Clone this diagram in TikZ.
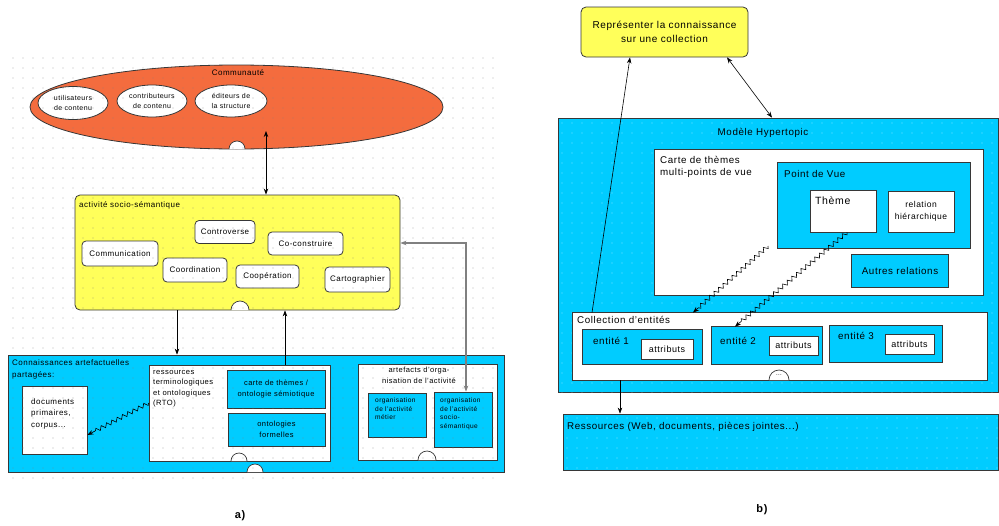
\documentclass[tikz,border=0pt]{standalone}
\usepackage{fontspec}
\setmainfont{Liberation Sans}[LetterSpace=6]
\usetikzlibrary{shapes.geometric,arrows.meta,decorations.pathmorphing}
\definecolor{cyanbox}{RGB}{0,204,255}
\definecolor{yelbox}{RGB}{255,255,90}
\definecolor{orangebox}{RGB}{244,108,62}
\definecolor{edge}{RGB}{55,55,55}
\begin{document}
\begin{tikzpicture}[x=1pt,y=-1pt,
  sz/.style 2 args={minimum width=#1pt, minimum height=#2pt},
  box/.style={draw=edge, line width=0.8pt, inner sep=0pt, rectangle},
  cbox/.style={box, fill=cyanbox},
  wbox/.style={box, fill=white},
  ybox/.style={box, fill=yelbox, rounded corners=5pt},
  pill/.style={box, fill=white, rounded corners=4pt, font=\fontsize{8}{9}\selectfont},
  oval/.style={ellipse, draw=edge, line width=0.8pt, inner sep=0pt, fill=white, align=center, font=\fontsize{7}{10}\selectfont},
  txt/.style={inner sep=0pt, align=left, font=\fontsize{8}{11}\selectfont},
  rtxt/.style={inner sep=0pt, align=left, font=\fontsize{9.8}{12}\selectfont},
  stxt/.style={inner sep=0pt, align=left, font=\fontsize{6.6}{8.4}\selectfont},
  arr/.style={-{Stealth[length=6pt,width=4.5pt]}, line width=0.6pt, draw=black},
  dbl/.style={{Stealth[length=6pt,width=4.5pt]}-{Stealth[length=6pt,width=4.5pt]}, line width=0.6pt},
  zz/.style={decorate, decoration={zigzag, amplitude=2pt, segment length=6pt, post length=7pt}, -{Stealth[length=6pt,width=4.5pt]}, line width=0.6pt},
  bump/.style={draw=edge, fill=white, line width=0.7pt},
  captionlbl/.style={inner sep=0pt, font=\bfseries\fontsize{11}{12}\selectfont}
]
\useasboundingbox (0,0) rectangle (999,525);

% ================= (a) =================
\node[ellipse, draw=edge, line width=0.8pt, fill=orangebox, sz={413}{84}] (comm) at (236.5,107) {};
\node[txt, anchor=center] (tcomm) at (238,73) {Communauté};
\node[oval, sz={70}{33}] (u1) at (73,103) {utilisateurs\\de contenu};
\node[oval, sz={70}{32}] (u2) at (152,101) {contributeurs\\de contenu};
\node[oval, sz={72}{32}] (u3) at (231,101) {éditeurs de\\la structure};
\draw[bump] (229,149) arc[start angle=180, end angle=360, radius=8];

\node[ybox, sz={325}{115}] (act) at (237.5,252.5) {};
\node[txt, anchor=west] (tact) at (79,205) {activité socio-sémantique};
\node[pill, sz={60}{23}] (n1) at (225,232) {Controverse};
\node[pill, sz={75}{23}] (n2) at (305.5,243.5) {Co-construire};
\node[pill, sz={76}{25}] (n3) at (120,253.5) {Communication};
\node[pill, sz={64}{24}] (n4) at (195,270) {Coordination};
\node[pill, sz={63}{23}] (n5) at (267.5,276.5) {Coopération};
\node[pill, sz={65}{25}] (n6) at (357.5,279.5) {Cartographier};
\draw[bump] (231,310) arc[start angle=180, end angle=360, radius=9];

\node[cbox, sz={496}{117}] (blue) at (256,413.5) {};
\node[txt, anchor=north west, font=\fontsize{8}{12}\selectfont] (tblue) at (12,359) {Connaissances artefactuelles\\partagées:};
\node[wbox, sz={65}{68}] (docs) at (54.5,420) {};
\node[txt, anchor=north west, font=\fontsize{8}{11.5}\selectfont] (tdocs) at (31,398) {documents\\primaires,\\corpus...};

\node[wbox, sz={181}{96}] (rto) at (239.5,413) {};
\node[txt, anchor=north west, font=\fontsize{7.6}{10.4}\selectfont] (trto) at (153,370) {ressources\\terminologiques\\et ontologiques\\(RTO)};
\node[cbox, sz={98}{38}, align=center, font=\fontsize{7.5}{10.5}\selectfont] (carte) at (276,389) {carte de thèmes /\\ontologie sémiotique};
\node[cbox, sz={97}{33}, align=center, font=\fontsize{7.5}{10.5}\selectfont] (onto) at (276.5,429.5) {ontologies\\formelles};
\draw[bump] (231,461) arc[start angle=180, end angle=360, radius=8];
\draw[bump] (247,472) arc[start angle=180, end angle=360, radius=8];

\node[wbox, sz={139}{96}] (arte) at (427.5,412) {};
\node[txt, anchor=north, align=center, font=\fontsize{7.5}{10.5}\selectfont] (tarte) at (419,367) {artefacts d'orga-\\nisation de l'activité};
\node[cbox, sz={58}{44}] (metier) at (397,415) {};
\node[stxt, anchor=north west] (tmetier) at (375,398) {organisation\\de l'activité\\métier};
\node[cbox, sz={58}{55}] (socio) at (463,419.5) {};
\node[stxt, anchor=north west] (tsocio) at (440,398) {organisation\\de l'activité\\socio-\\sémantique};
\draw[bump] (418,460) arc[start angle=180, end angle=360, radius=9];

% connectors (a)
\coordinate (k4) at (266,131);
\draw[dbl, line width=1pt] (k4) -- (act.north -| k4);
\coordinate (k2) at (177,0);
\draw[arr] (act.south -| k2) -- (blue.north -| k2);
\coordinate (k3) at (285,0);
\draw[arr] (rto.north -| k3) -- (act.south -| k3);
\coordinate (k1) at (466,243);
\draw[dbl, draw=gray, line width=1.2pt] (act.east |- k1) -- (k1) -- (k1 |- socio.north);
\coordinate (k13) at (0,403);
\coordinate (k14) at (0,435);
\draw[zz] (rto.west |- k13) -- (docs.east |- k14);

% dot grid (a)
\foreach \i in {0,...,48}{\foreach \j in {0,...,42}{\fill[gray, opacity=0.6] (13+10*\i,58+10*\j) circle[radius=0.7pt];}}

\node[captionlbl] (la) at (240,516) {a)};

% ================= (b) =================
\node[ybox, sz={167}{50}, align=center, font=\fontsize{10}{14}\selectfont] (rep) at (664.5,32) {Représenter la connaissance\\sur une collection};

\node[cbox, sz={440}{274}] (hyp) at (778,255) {};
\node[wbox, sz={328}{145}] (carte2) at (819,222.5) {};
\node[cbox, sz={192}{85}] (pdv) at (874,205.5) {};
\node[wbox, sz={65}{41}] (theme) at (843.5,211.5) {};
\node[wbox, sz={414}{67}] (coll) at (780,346.5) {};
\node[cbox, sz={119}{34}] (e1) at (642.5,347) {};
\node[cbox, sz={110}{37}] (e2) at (767,345.5) {};
\node[cbox, sz={112}{36}] (e3) at (886,344) {};
\node[cbox, sz={435}{56}] (res) at (780.5,442) {};
\node[cbox, sz={96}{32}] (autres) at (900,271) {};

% faint dots on the cyan areas of (b)
\begin{scope}
\clip (hyp.north west) rectangle (hyp.south east);
\foreach \i in {0,...,44}{\foreach \j in {0,...,27}{\fill[white, opacity=0.45] (562+10*\i,123+10*\j) circle[radius=0.6pt];}}
\end{scope}
\begin{scope}
\clip (res.north west) rectangle (res.south east);
\foreach \i in {0,...,44}{\foreach \j in {0,...,5}{\fill[white, opacity=0.45] (567+10*\i,418+10*\j) circle[radius=0.6pt];}}
\end{scope}
\draw[draw=edge, line width=0.8pt, fill=white] (carte2.north west) rectangle (carte2.south east);
\draw[draw=edge, line width=0.8pt, fill=cyanbox] (pdv.north west) rectangle (pdv.south east);
\draw[draw=edge, line width=0.8pt, fill=cyanbox] (autres.north west) rectangle (autres.south east);
\draw[draw=edge, line width=0.8pt, fill=white] (theme.north west) rectangle (theme.south east);
\draw[draw=edge, line width=0.8pt, fill=white] (coll.north west) rectangle (coll.south east);
\draw[draw=edge, line width=0.8pt, fill=cyanbox] (e1.north west) rectangle (e1.south east);
\draw[draw=edge, line width=0.8pt, fill=cyanbox] (e2.north west) rectangle (e2.south east);
\draw[draw=edge, line width=0.8pt, fill=cyanbox] (e3.north west) rectangle (e3.south east);

\node[rtxt, anchor=center] (thyp) at (763,133) {Modèle Hypertopic};
\node[rtxt, anchor=north west] (tcarte2) at (660,156) {Carte de thèmes\\multi-points de vue};
\node[rtxt, anchor=west] (tpdv) at (784,174) {Point de Vue};
\node[rtxt, anchor=north west, font=\fontsize{10.5}{12}\selectfont] (ttheme) at (815,197) {Thème};
\node[wbox, sz={66}{41}, align=center, font=\fontsize{8.5}{11.5}\selectfont] (relh) at (921,211.5) {relation\\hiérarchique};
\node[rtxt, anchor=center] (tautres) at (autres) {Autres relations};

\node[rtxt, anchor=west] (tcoll) at (577,320) {Collection d'entités};
\node[rtxt, anchor=west] (te1) at (593,341) {entité 1};
\node[wbox, sz={52}{20}, font=\fontsize{9}{10}\selectfont] (a1) at (667,349) {attributs};
\node[rtxt, anchor=west] (te2) at (720,341) {entité 2};
\node[wbox, sz={49}{19}, font=\fontsize{9}{10}\selectfont] (a2) at (793.5,345.5) {attributs};
\node[rtxt, anchor=west] (te3) at (838,336) {entité 3};
\node[wbox, sz={49}{20}, font=\fontsize{9}{10}\selectfont] (a3) at (909.5,344) {attributs};
\draw[bump] (769,380) arc[start angle=180, end angle=360, radius=10];
\node[inner sep=0pt, font=\fontsize{6}{7}\selectfont] (dots) at (779,375) {...};

\node[rtxt, anchor=west] (tres) at (567,427) {Ressources (Web, documents, pièces jointes...)};

% connectors (b)
\coordinate (k5) at (592,0);
\coordinate (k6) at (630,0);
\draw[arr] (coll.north -| k5) -- (rep.south -| k6);
\coordinate (k7) at (727,0);
\coordinate (k8) at (772,0);
\draw[dbl] (rep.south -| k7) -- (hyp.north -| k8);
\coordinate (z1) at (768,246);
\coordinate (k9) at (693,0);
\draw[zz] (z1) -- (coll.north -| k9);
\coordinate (k10) at (847,0);
\coordinate (k11) at (735,0);
\draw[zz] (theme.south -| k10) -- (e2.north -| k11);
\coordinate (k12) at (620,0);
\draw[arr] (coll.south -| k12) -- (res.north -| k12);

\node[captionlbl] (lb) at (762,510) {b)};
\end{tikzpicture}
\end{document}
